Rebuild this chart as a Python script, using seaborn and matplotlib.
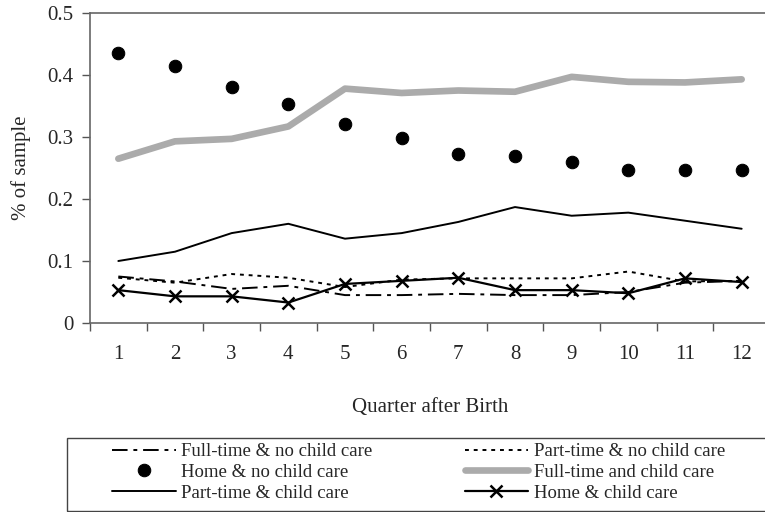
import numpy as np
import pandas as pd
import matplotlib
matplotlib.use("Agg")
import matplotlib.pyplot as plt
from matplotlib.patches import Rectangle
import seaborn as sns

# Data
quarters = list(range(1, 13))
ft_no_cc = [0.075, 0.067, 0.055, 0.060, 0.045, 0.045, 0.047, 0.045, 0.045, 0.050, 0.065, 0.068]
pt_no_cc = [0.073, 0.065, 0.079, 0.073, 0.058, 0.070, 0.072, 0.072, 0.072, 0.083, 0.067, 0.068]
home_no_cc = [0.435, 0.415, 0.380, 0.353, 0.321, 0.298, 0.272, 0.270, 0.259, 0.247, 0.247, 0.247]
ft_cc = [0.265, 0.293, 0.297, 0.317, 0.378, 0.371, 0.375, 0.373, 0.397, 0.389, 0.388, 0.393]
pt_cc = [0.100, 0.115, 0.145, 0.160, 0.136, 0.145, 0.163, 0.187, 0.173, 0.178, 0.165, 0.152]
home_cc = [0.053, 0.043, 0.043, 0.033, 0.063, 0.068, 0.073, 0.053, 0.053, 0.048, 0.072, 0.066]

sns.set_style("ticks")
plt.rcParams['font.family'] = ['Liberation Serif', 'DejaVu Serif']

fig = plt.figure(figsize=(7.65, 5.12), dpi=100)
ax = fig.add_axes([90 / 765, 1 - 323 / 512, 680 / 765, 310 / 512])

l1 = sns.lineplot(x=quarters, y=ft_no_cc, ax=ax, color='black', lw=1.4,
                  label='Full-time & no child care').lines[-1]
l1.set_dashes((8, 3, 2, 3))
l2 = sns.lineplot(x=quarters, y=pt_no_cc, ax=ax, color='black', lw=1.4,
                  label='Part-time & no child care').lines[-1]
l2.set_dashes((2, 2.5))
l4 = sns.lineplot(x=quarters, y=ft_cc, ax=ax, color='#ababab', lw=4.8,
                  label='Full-time and child care').lines[-1]
l5 = sns.lineplot(x=quarters, y=pt_cc, ax=ax, color='black', lw=1.4,
                  label='Part-time & child care').lines[-1]
l6 = sns.lineplot(x=quarters, y=home_cc, ax=ax, color='black', lw=1.6, marker='x',
                  markersize=8.5, markeredgewidth=1.8, markeredgecolor='black',
                  label='Home & child care').lines[-1]
l3 = sns.lineplot(x=quarters, y=home_no_cc, ax=ax, color='black', lw=0, marker='o',
                  markersize=9, markeredgecolor='black',
                  label='Home & no child care').lines[-1]

ax.get_legend().remove()

ax.set_xlim(0.5, 12.5)
ax.set_ylim(0, 0.5)
ax.set_xticks(quarters)
ax.set_xticklabels([str(q) for q in quarters], fontsize=15)
ax.set_xticks(np.arange(0.5, 12.6, 1), minor=True)
ax.tick_params(axis='x', which='major', length=0, pad=16)
ax.tick_params(axis='x', which='minor', length=6, width=1, color='#555555', direction='out')
ax.set_yticks([0, 0.1, 0.2, 0.3, 0.4, 0.5])
ax.set_yticklabels(['0', '0.1', '0.2', '0.3', '0.4', '0.5'], fontsize=15)
ax.tick_params(axis='y', length=6, width=1, color='#555555', direction='out', pad=6)

for s in ['left', 'bottom', 'top']:
    ax.spines[s].set_color('#666666')
    ax.spines[s].set_linewidth(1.2)
ax.spines['right'].set_visible(False)

ax.set_xlabel('Quarter after Birth', fontsize=15, labelpad=24)
ax.set_ylabel('% of sample', fontsize=15, labelpad=12)

# legend box drawn separately so it runs off the right edge like the reference
fig.patches.append(Rectangle((67 / 765, 1.5 / 512), 710 / 765, 72.5 / 512,
                             transform=fig.transFigure, fill=False,
                             edgecolor='#444444', lw=1.0))

handles = [l1, l3, l5, l2, l4, l6]
labels = ['Full-time & no child care', 'Home & no child care', 'Part-time & child care',
          'Part-time & no child care', 'Full-time and child care', 'Home & child care']
leg = fig.legend(handles, labels, loc='upper left', ncol=2,
                 bbox_to_anchor=(112 / 765, 1 - 443 / 512),
                 fontsize=13.5, frameon=False, handlelength=3.4,
                 handletextpad=0.3, borderpad=0, borderaxespad=0,
                 labelspacing=0.2, columnspacing=4.9)

fig.savefig('out.png', dpi=100)
